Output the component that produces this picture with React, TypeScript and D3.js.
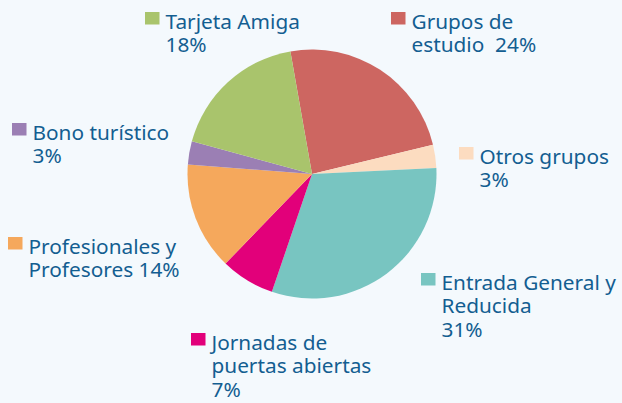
import { useEffect, useRef } from 'react';
import * as d3 from 'd3';

// slices, clockwise from the top
const categories = [
  'Grupos de estudio',
  'Otros grupos',
  'Entrada General y Reducida',
  'Jornadas de puertas abiertas',
  'Profesionales y Profesores',
  'Bono turístico',
  'Tarjeta Amiga',
];
const values = [24, 3, 31, 7, 14, 3, 18];
const colors = ['#cd6661', '#fcdcc0', '#78c5c1', '#e2007a', '#f5a85c', '#9b7fb4', '#a9c46c'];

// legend text lines per category
const labelLines = [
  ['Grupos de', 'estudio  24%'],
  ['Otros grupos', '3%'],
  ['Entrada General y', 'Reducida', '31%'],
  ['Jornadas de', 'puertas abiertas', '7%'],
  ['Profesionales y', 'Profesores 14%'],
  ['Bono turístico', '3%'],
  ['Tarjeta Amiga', '18%'],
];
// legend anchor (square top-left)
const labelPos = [
  [391, 12],
  [459, 147],
  [421, 273],
  [191, 333],
  [8, 237],
  [12, 123],
  [145, 12],
];

const App = () => {
  const ref = useRef<SVGSVGElement>(null);

  useEffect(() => {
    const width = 622;
    const height = 403;
    const cx = 312;
    const cy = 174;
    const r = 124.5;

    const svg = d3.select(ref.current);
    svg.selectAll('*').remove();

    svg.append('rect').attr('width', width).attr('height', height).attr('fill', '#f4f9fd');

    const data = categories.map((c, i) => ({ name: c, value: values[i], i }));
    const startA = (-10 * Math.PI) / 180;
    const pie = d3
      .pie<any>()
      .value((d) => d.value)
      .sort(null)
      .startAngle(startA)
      .endAngle(startA + 2 * Math.PI);
    const arc = d3.arc<any>().innerRadius(0).outerRadius(r);

    svg
      .append('g')
      .attr('transform', `translate(${cx},${cy})`)
      .selectAll('path')
      .data(pie(data))
      .join('path')
      .attr('d', arc)
      .attr('fill', (d) => colors[d.data.i]);

    const legend = svg
      .append('g')
      .selectAll('g')
      .data(data)
      .join('g')
      .attr('transform', (d) => `translate(${labelPos[d.i][0]},${labelPos[d.i][1]})`);

    legend
      .append('rect')
      .attr('width', 14.5)
      .attr('height', 12.5)
      .attr('fill', (d) => colors[d.i]);

    legend
      .append('text')
      .attr('fill', '#135e91')
      .attr('font-family', '"Noto Sans", sans-serif')
      .attr('font-size', 20.8)
      .selectAll('tspan')
      .data((d) => labelLines[d.i])
      .join('tspan')
      .attr('x', 20.5)
      .attr('y', (_, j) => 17 + j * 23.3)
      .attr('xml:space', 'preserve')
      .style('white-space', 'pre')
      .text((t) => t);
  }, []);

  return (
    <svg
      ref={ref}
      width={622}
      height={403}
      style={{ position: 'absolute', left: 0, top: 0 }}
    />
  );
};

export default App;
